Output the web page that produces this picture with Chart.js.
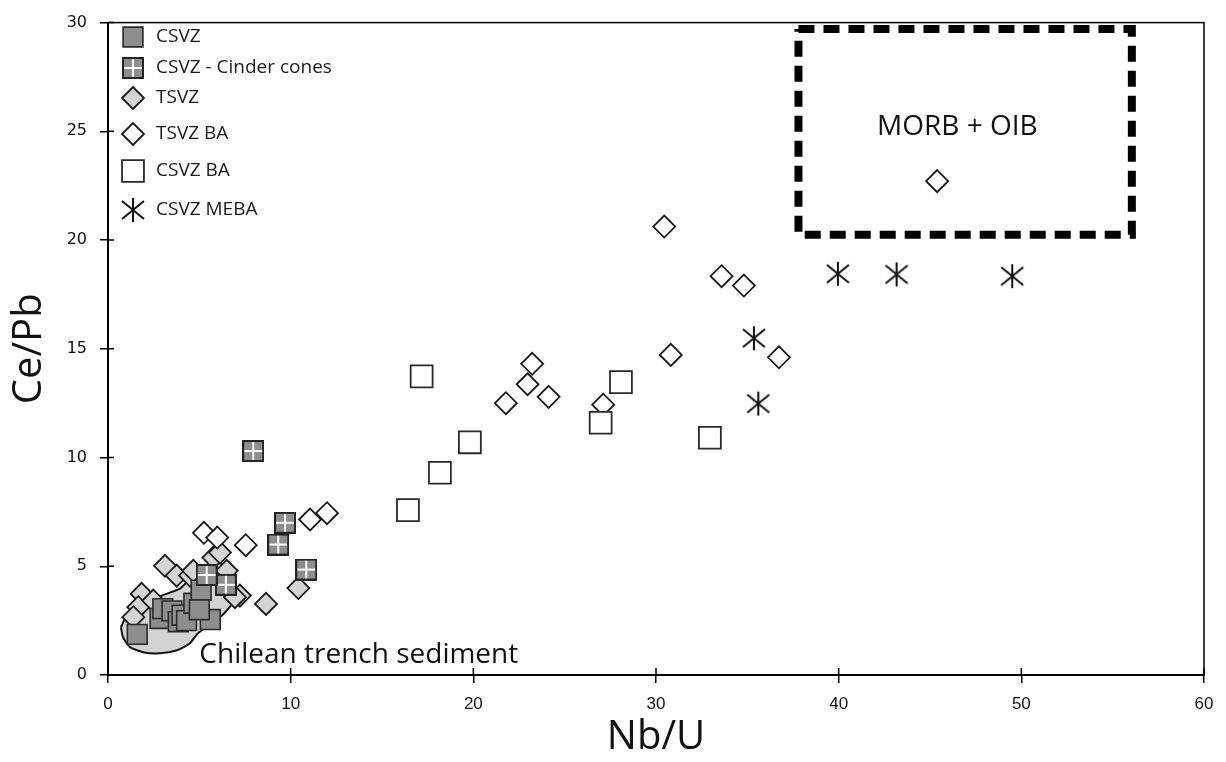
<!DOCTYPE html>
<html>
<head>
<meta charset="utf-8">
<title>Ce/Pb vs Nb/U</title>
<script src="https://cdn.jsdelivr.net/npm/chart.js@4.4.1/dist/chart.umd.min.js"></script>
<style>
  html, body { margin: 0; padding: 0; background: #fff; }
  #wrap { width: 1226px; height: 762px; }
</style>
</head>
<body>
<div id="wrap"><canvas id="chart"></canvas></div>
<script>
// --- Data ---
const seriesNames = ['CSVZ', 'CSVZ - Cinder cones', 'TSVZ', 'TSVZ BA', 'CSVZ BA', 'CSVZ MEBA'];

const csvzX = [1.6, 2.85, 3.0, 3.5, 3.85, 4.05, 4.3, 4.7, 5.1, 5.6, 5.0];
const csvzY = [1.87, 2.6, 3.05, 2.95, 2.45, 2.75, 2.5, 3.3, 3.9, 2.55, 3.0];

const cinderX = [7.95, 9.69, 9.32, 10.85, 6.45, 5.4];
const cinderY = [10.3, 7.0, 6.0, 4.85, 4.15, 4.6];

const tsvzX = [5.77, 6.13, 6.5, 10.42, 8.65, 7.22, 3.12, 3.76, 1.84, 1.66, 1.39, 6.95, 2.48, 4.49, 4.67];
const tsvzY = [5.4, 5.63, 4.79, 4.0, 3.27, 3.65, 5.02, 4.57, 3.73, 3.12, 2.66, 3.58, 3.42, 4.57, 4.79];

const tsvzBaX = [5.25, 5.98, 7.54, 11.06, 11.99, 21.78, 22.97, 23.22, 24.12, 27.11, 30.45, 30.81, 33.59, 34.81, 36.73, 45.39];
const tsvzBaY = [6.54, 6.32, 5.97, 7.15, 7.44, 12.5, 13.37, 14.31, 12.79, 12.43, 20.62, 14.72, 18.34, 17.91, 14.61, 22.71];

const csvzBaX = [16.42, 17.17, 18.17, 19.81, 26.97, 28.08, 32.95];
const csvzBaY = [7.58, 13.73, 9.3, 10.7, 11.6, 13.47, 10.91];

const mebaX = [35.36, 35.6, 39.96, 43.17, 49.5];
const mebaY = [15.49, 12.48, 18.45, 18.42, 18.34];

// Chilean trench sediment field (outline)
const sedimentX = [0.71, 0.93, 1.37, 2.03, 2.68, 3.39, 3.94, 4.38, 4.76, 5.2, 5.97, 6.57, 6.9, 6.9, 6.24, 5.42, 4.87, 4.49, 3.78, 2.85, 1.92, 1.2, 0.82, 0.71];
const sedimentY = [2.19, 2.6, 2.97, 3.29, 3.56, 3.79, 3.97, 4.34, 4.75, 5.02, 5.16, 4.98, 4.34, 3.42, 2.74, 2.24, 1.87, 1.46, 1.14, 1.0, 1.05, 1.28, 1.74, 2.19];

// MORB + OIB box
const boxX = [37.8, 56.05, 56.05, 37.8, 37.8];
const boxY = [29.7, 29.7, 20.25, 20.25, 29.7];

// Text labels: [text, x, y, align]
const fieldLabels = [
    ['MORB + OIB', 46.5, 25.2, 'center'],
    ['Chilean trench sediment', 5.0, 0.9, 'left']
];

const xTicks = { min: 0, max: 60, step: 10 };
const yTicks = { min: 0, max: 30, step: 5 };

const pts = (xs, ys) => xs.map((x, i) => ({ x: x, y: ys[i] }));

// --- Custom markers ---
function makeCinder(size) {
    const c = document.createElement('canvas');
    c.width = size; c.height = size;
    const g = c.getContext('2d');
    g.fillStyle = '#8e8e8e';
    g.fillRect(1, 1, size - 2, size - 2);
    g.strokeStyle = '#ffffff';
    g.lineWidth = 2;
    g.beginPath();
    g.moveTo(size / 2, 2); g.lineTo(size / 2, size - 2);
    g.moveTo(2, size / 2); g.lineTo(size - 2, size / 2);
    g.stroke();
    g.strokeStyle = '#222';
    g.lineWidth = 2;
    g.strokeRect(1, 1, size - 2, size - 2);
    return c;
}

function makeAsterisk(size) {
    const c = document.createElement('canvas');
    c.width = size; c.height = size;
    const g = c.getContext('2d');
    const m = size / 2;
    g.strokeStyle = '#111';
    g.lineWidth = 2;
    g.beginPath();
    g.moveTo(m, 1); g.lineTo(m, size - 1);
    g.moveTo(m - 11, m - 9); g.lineTo(m + 11, m + 9);
    g.moveTo(m - 11, m + 9); g.lineTo(m + 11, m - 9);
    g.stroke();
    return c;
}

const cinderIcon = makeCinder(22);
const mebaIcon = makeAsterisk(26);

// --- Plugins ---
const frameTicks = {
    id: 'frameTicks',
    afterDraw(chart) {
        const { ctx, chartArea: a, scales } = chart;
        ctx.save();
        ctx.strokeStyle = '#000';
        ctx.lineWidth = 1.5;
        ctx.strokeRect(a.left, a.top, a.right - a.left, a.bottom - a.top);
        ctx.beginPath();
        scales.x.ticks.forEach(t => {
            const px = scales.x.getPixelForValue(t.value);
            ctx.moveTo(px, a.bottom); ctx.lineTo(px, a.bottom - 7);
        });
        scales.y.ticks.forEach(t => {
            const py = scales.y.getPixelForValue(t.value);
            ctx.moveTo(a.left, py); ctx.lineTo(a.left + 6, py);
        });
        ctx.stroke();
        ctx.restore();
    }
};

const fieldText = {
    id: 'fieldText',
    afterDatasetsDraw(chart) {
        const { ctx, scales } = chart;
        ctx.save();
        ctx.fillStyle = '#111';
        ctx.font = '28px "Open Sans", sans-serif';
        ctx.textBaseline = 'middle';
        fieldLabels.forEach(([txt, x, y, align]) => {
            ctx.textAlign = align;
            ctx.fillText(txt, scales.x.getPixelForValue(x), scales.y.getPixelForValue(y));
        });
        ctx.restore();
    }
};

const insideLegend = {
    id: 'insideLegend',
    afterDraw(chart) {
        const { ctx, chartArea: a } = chart;
        const rows = [37, 68, 98, 134, 171, 210];
        ctx.save();
        ctx.font = '19px "Open Sans", sans-serif';
        ctx.textBaseline = 'middle';
        ctx.textAlign = 'left';
        let i = 0;
        chart.data.datasets.forEach(ds => {
            if (!ds.label) return;
            const y = rows[i++];
            const x = a.left + 25;
            ctx.fillStyle = ds.backgroundColor || '#fff';
            ctx.strokeStyle = ds.borderColor || '#000';
            ctx.lineWidth = ds.borderWidth || 1;
            Chart.helpers.drawPoint(ctx, {
                pointStyle: ds.pointStyle,
                radius: ds.pointRadius,
                rotation: 0,
                borderWidth: ds.borderWidth || 0
            }, x, y);
            ctx.fillStyle = '#1a1a1a';
            ctx.fillText(ds.label, a.left + 48, y);
        });
        ctx.restore();
    }
};

// --- Chart ---
new Chart(document.getElementById('chart'), {
    type: 'scatter',
    data: {
        datasets: [
            {
                label: seriesNames[0], data: pts(csvzX, csvzY), order: 4,
                pointStyle: 'rect', pointRadius: 14, backgroundColor: '#8e8e8e', borderColor: '#2a2a2a', borderWidth: 1.6
            },
            {
                label: seriesNames[1], data: pts(cinderX, cinderY), order: 3,
                pointStyle: cinderIcon, pointRadius: 11, backgroundColor: '#8e8e8e', borderColor: '#222', borderWidth: 0
            },
            {
                label: seriesNames[2], data: pts(tsvzX, tsvzY), order: 6,
                pointStyle: 'rectRot', pointRadius: 11, backgroundColor: '#d4d4d4', borderColor: '#1a1a1a', borderWidth: 1.8
            },
            {
                label: seriesNames[3], data: pts(tsvzBaX, tsvzBaY), order: 5,
                pointStyle: 'rectRot', pointRadius: 11, backgroundColor: '#ffffff', borderColor: '#1a1a1a', borderWidth: 1.8
            },
            {
                label: seriesNames[4], data: pts(csvzBaX, csvzBaY), order: 2,
                pointStyle: 'rect', pointRadius: 15.5, backgroundColor: '#ffffff', borderColor: '#2a2a2a', borderWidth: 1.8
            },
            {
                label: seriesNames[5], data: pts(mebaX, mebaY), order: 1,
                pointStyle: mebaIcon, pointRadius: 12, backgroundColor: '#000', borderColor: '#000', borderWidth: 0
            },
            {
                type: 'line', data: pts(sedimentX, sedimentY), order: 10,
                borderColor: '#111', borderWidth: 2, backgroundColor: '#d3d3d3',
                fill: 'shape', pointRadius: 0, tension: 0.2
            },
            {
                type: 'line', data: pts(boxX, boxY), order: 9,
                borderColor: '#000', borderWidth: 8, borderDash: [16, 9], borderCapStyle: 'butt',
                fill: false, pointRadius: 0, tension: 0
            }
        ]
    },
    options: {
        responsive: true,
        maintainAspectRatio: false,
        animation: false,
        layout: { padding: { top: 12, right: 22, left: 0, bottom: 0 } },
        plugins: { legend: { display: false }, tooltip: { enabled: false } },
        scales: {
            x: {
                type: 'linear', min: xTicks.min, max: xTicks.max,
                ticks: { stepSize: xTicks.step, color: '#111', padding: 11,
                    font: { family: '"Liberation Sans Narrow", "Liberation Sans", sans-serif', size: 17 } },
                grid: { drawOnChartArea: false, tickLength: 8, color: '#000', lineWidth: 1.5 },
                border: { color: '#000', width: 2 },
                title: { display: true, text: 'Nb/U', color: '#111',
                    font: { family: '"Open Sans", sans-serif', size: 40 }, padding: { top: 0, bottom: 0 } },
                afterFit: s => { s.height = 87; }
            },
            y: {
                type: 'linear', min: yTicks.min, max: yTicks.max,
                ticks: { stepSize: yTicks.step, color: '#111', padding: 13,
                    font: { family: '"DejaVu Sans", sans-serif', size: 16 } },
                grid: { drawOnChartArea: false, tickLength: 8, color: '#000', lineWidth: 1.5 },
                border: { color: '#000', width: 2 },
                title: { display: true, text: 'Ce/Pb', color: '#111',
                    font: { family: '"Open Sans", sans-serif', size: 40 }, padding: { top: 6, bottom: 0 } },
                afterFit: s => { s.width = 108; }
            }
        }
    },
    plugins: [frameTicks, fieldText, insideLegend]
});
</script>
</body>
</html>
